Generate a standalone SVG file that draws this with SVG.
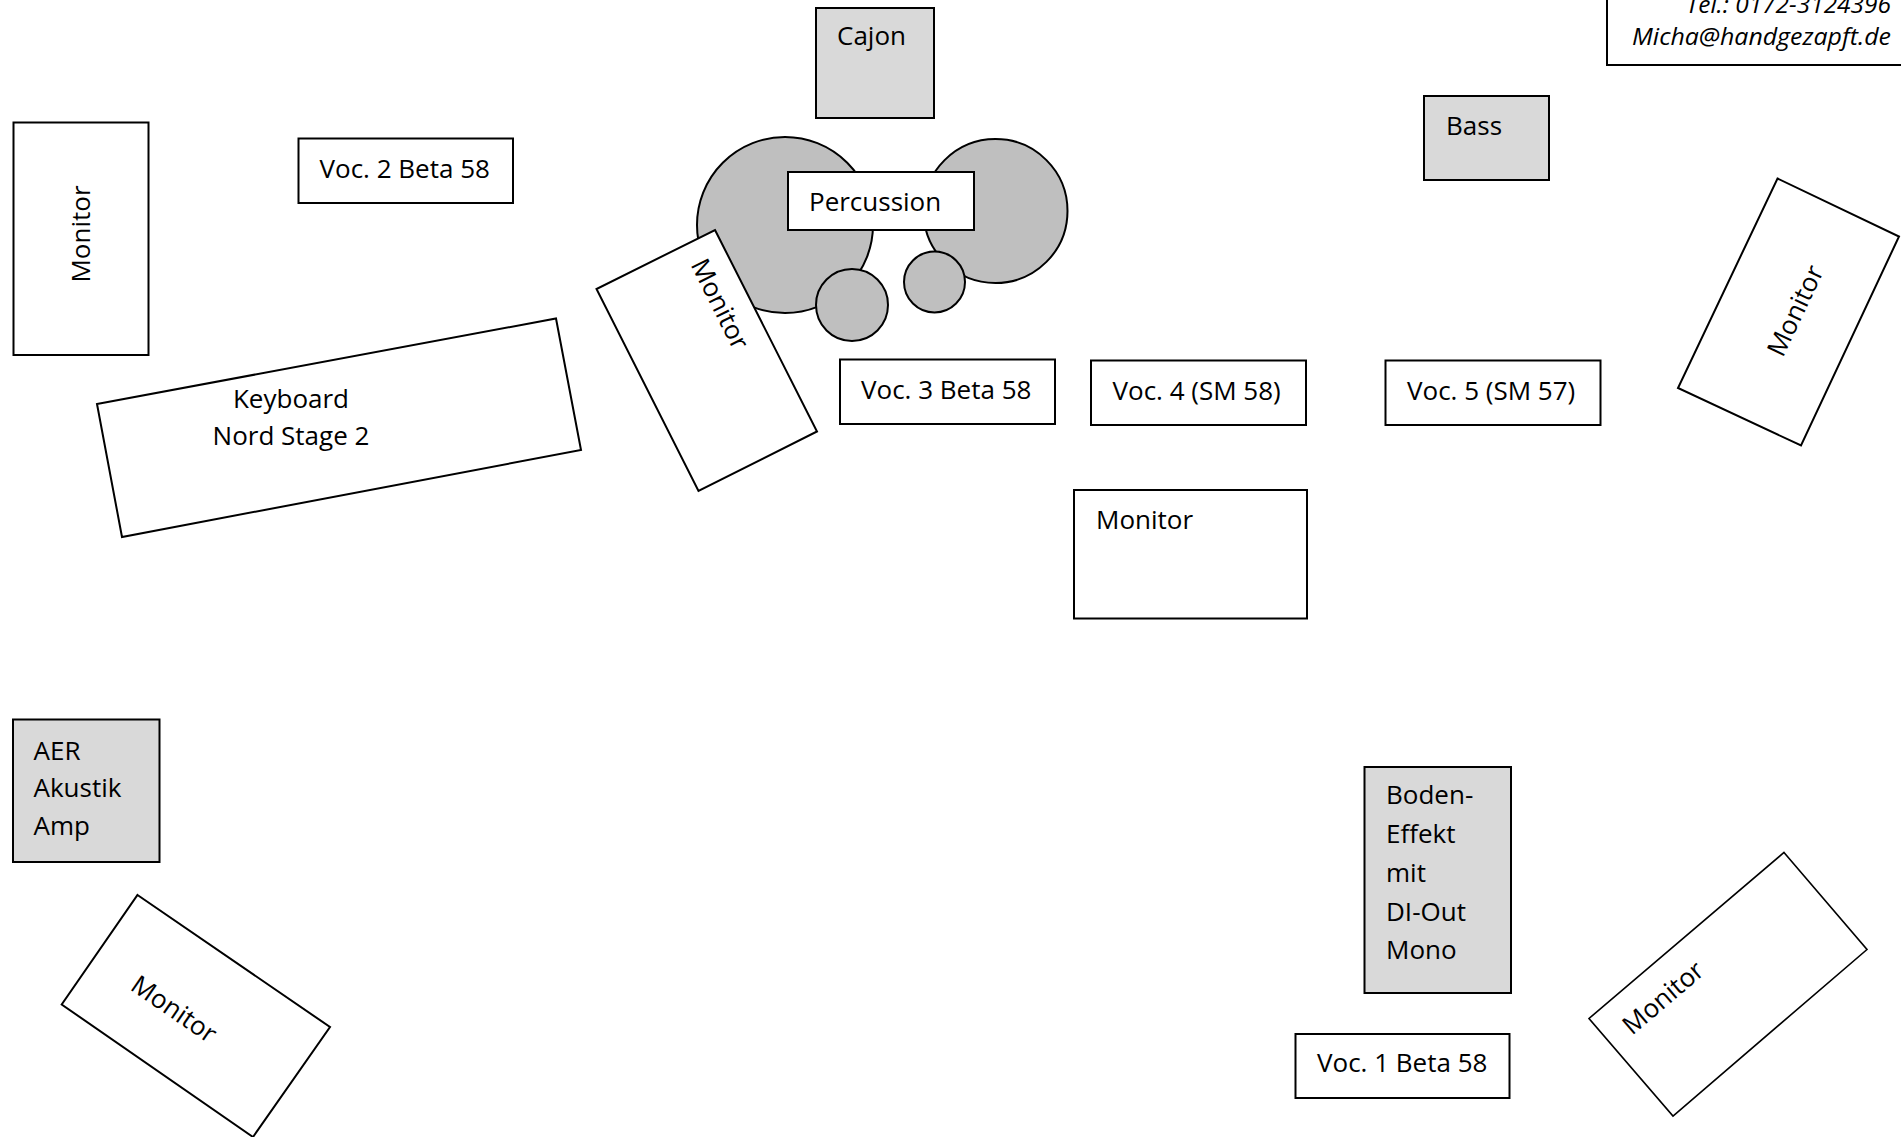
<svg xmlns="http://www.w3.org/2000/svg" width="1901" height="1137" viewBox="0 0 1901 1137">
<style>
  text { font-family: "Open Sans", "Liberation Sans", sans-serif; font-size: 26px; fill: #000; }
  .box { fill: #fff; stroke: #000; stroke-width: 2; }
  .gear { fill: #d9d9d9; stroke: #000; stroke-width: 2; }
  .drum { fill: #bfbfbf; stroke: #000; stroke-width: 2; }
  .mid { text-anchor: middle; }
  .contact { font-style: italic; text-anchor: end; font-size: 24px; }
</style>
<rect width="1901" height="1137" fill="#fff"/>
<g id="connectors"/>

<g id="contact">
  <rect class="box" x="1607" y="-10" width="310" height="75"/>
  <text class="contact" x="1891" y="12.5" textLength="205" lengthAdjust="spacingAndGlyphs">Tel.: 0172-3124396</text>
  <text class="contact" x="1891" y="45" textLength="259" lengthAdjust="spacingAndGlyphs">Micha@handgezapft.de</text>
</g>

<g id="cajon">
  <rect class="gear" x="816" y="8" width="118" height="110"/>
  <text x="837" y="45">Cajon</text>
</g>

<g id="percussion">
  <circle class="drum" cx="785" cy="225" r="88"/>
  <circle class="drum" cx="995.5" cy="211" r="72"/>
  <circle class="drum" cx="852" cy="305" r="36"/>
  <circle class="drum" cx="934.5" cy="282" r="30.5"/>
  <rect class="box" x="788" y="172" width="186" height="58"/>
  <text x="809" y="211">Percussion</text>
</g>

<g id="bass">
  <rect class="gear" x="1424" y="96" width="125" height="84"/>
  <text x="1446" y="135">Bass</text>
</g>

<g id="monitor-left">
  <rect class="box" x="13.5" y="122.5" width="135" height="232.5"/>
  <text class="mid" transform="translate(90,234) rotate(-90)">Monitor</text>
</g>

<g id="voc2">
  <rect class="box" x="298.5" y="138.5" width="214.5" height="64.5"/>
  <text x="319.5" y="177.5">Voc. 2 Beta 58</text>
</g>

<g id="keyboard">
  <polygon class="box" points="97,404 556,318.5 581,450 122,537"/>
  <text class="mid" x="291" y="408">Keyboard</text>
  <text class="mid" x="291" y="445">Nord Stage 2</text>
</g>

<g id="monitor-mid-left">
  <polygon class="box" points="715,230 817,431.5 698.5,491 596.5,289"/>
  <text class="mid" transform="translate(712,308) rotate(63.4)">Monitor</text>
</g>

<g id="voc3">
  <rect class="box" x="840" y="359.5" width="215" height="64.5"/>
  <text x="861" y="398.5">Voc. 3 Beta 58</text>
</g>

<g id="voc4">
  <rect class="box" x="1091" y="360.5" width="215" height="64.5"/>
  <text x="1112.5" y="399.5">Voc. 4 (SM 58)</text>
</g>

<g id="voc5">
  <rect class="box" x="1385.5" y="360.5" width="215" height="64.5"/>
  <text x="1407" y="399.5">Voc. 5 (SM 57)</text>
</g>

<g id="monitor-right">
  <polygon class="box" points="1777.5,178.5 1899,236.5 1801,445.5 1678,388"/>
  <text class="mid" transform="translate(1803.5,314.5) rotate(-64.6)">Monitor</text>
</g>

<g id="monitor-center">
  <rect class="box" x="1074" y="490" width="233" height="128.5"/>
  <text x="1096" y="528.5">Monitor</text>
</g>

<g id="aer-amp">
  <rect class="gear" x="13" y="719.5" width="146.5" height="142.5"/>
  <text x="33.5" y="759.5">AER</text>
  <text x="33.5" y="797">Akustik</text>
  <text x="33.5" y="835">Amp</text>
</g>

<g id="monitor-bottom-left">
  <polygon class="box" points="137.5,895 330,1027 253,1137 61.7,1004.5"/>
  <text class="mid" transform="translate(169,1016.5) rotate(34.5)">Monitor</text>
</g>

<g id="boden-effekt">
  <rect class="gear" x="1364.5" y="767" width="146.5" height="226"/>
  <text x="1386" y="804">Boden-</text>
  <text x="1386" y="843">Effekt</text>
  <text x="1386" y="882">mit</text>
  <text x="1386" y="921">DI-Out</text>
  <text x="1386" y="959">Mono</text>
</g>

<g id="voc1">
  <rect class="box" x="1295.5" y="1034" width="214" height="64"/>
  <text x="1317" y="1072">Voc. 1 Beta 58</text>
</g>

<g id="monitor-bottom-right">
  <polygon class="box" points="1784,852.5 1867,949.5 1673,1116 1589,1018.5" style="stroke-width:1.6"/>
  <text class="mid" transform="translate(1669,1004.5) rotate(-40.5)">Monitor</text>
</g>
</svg>
